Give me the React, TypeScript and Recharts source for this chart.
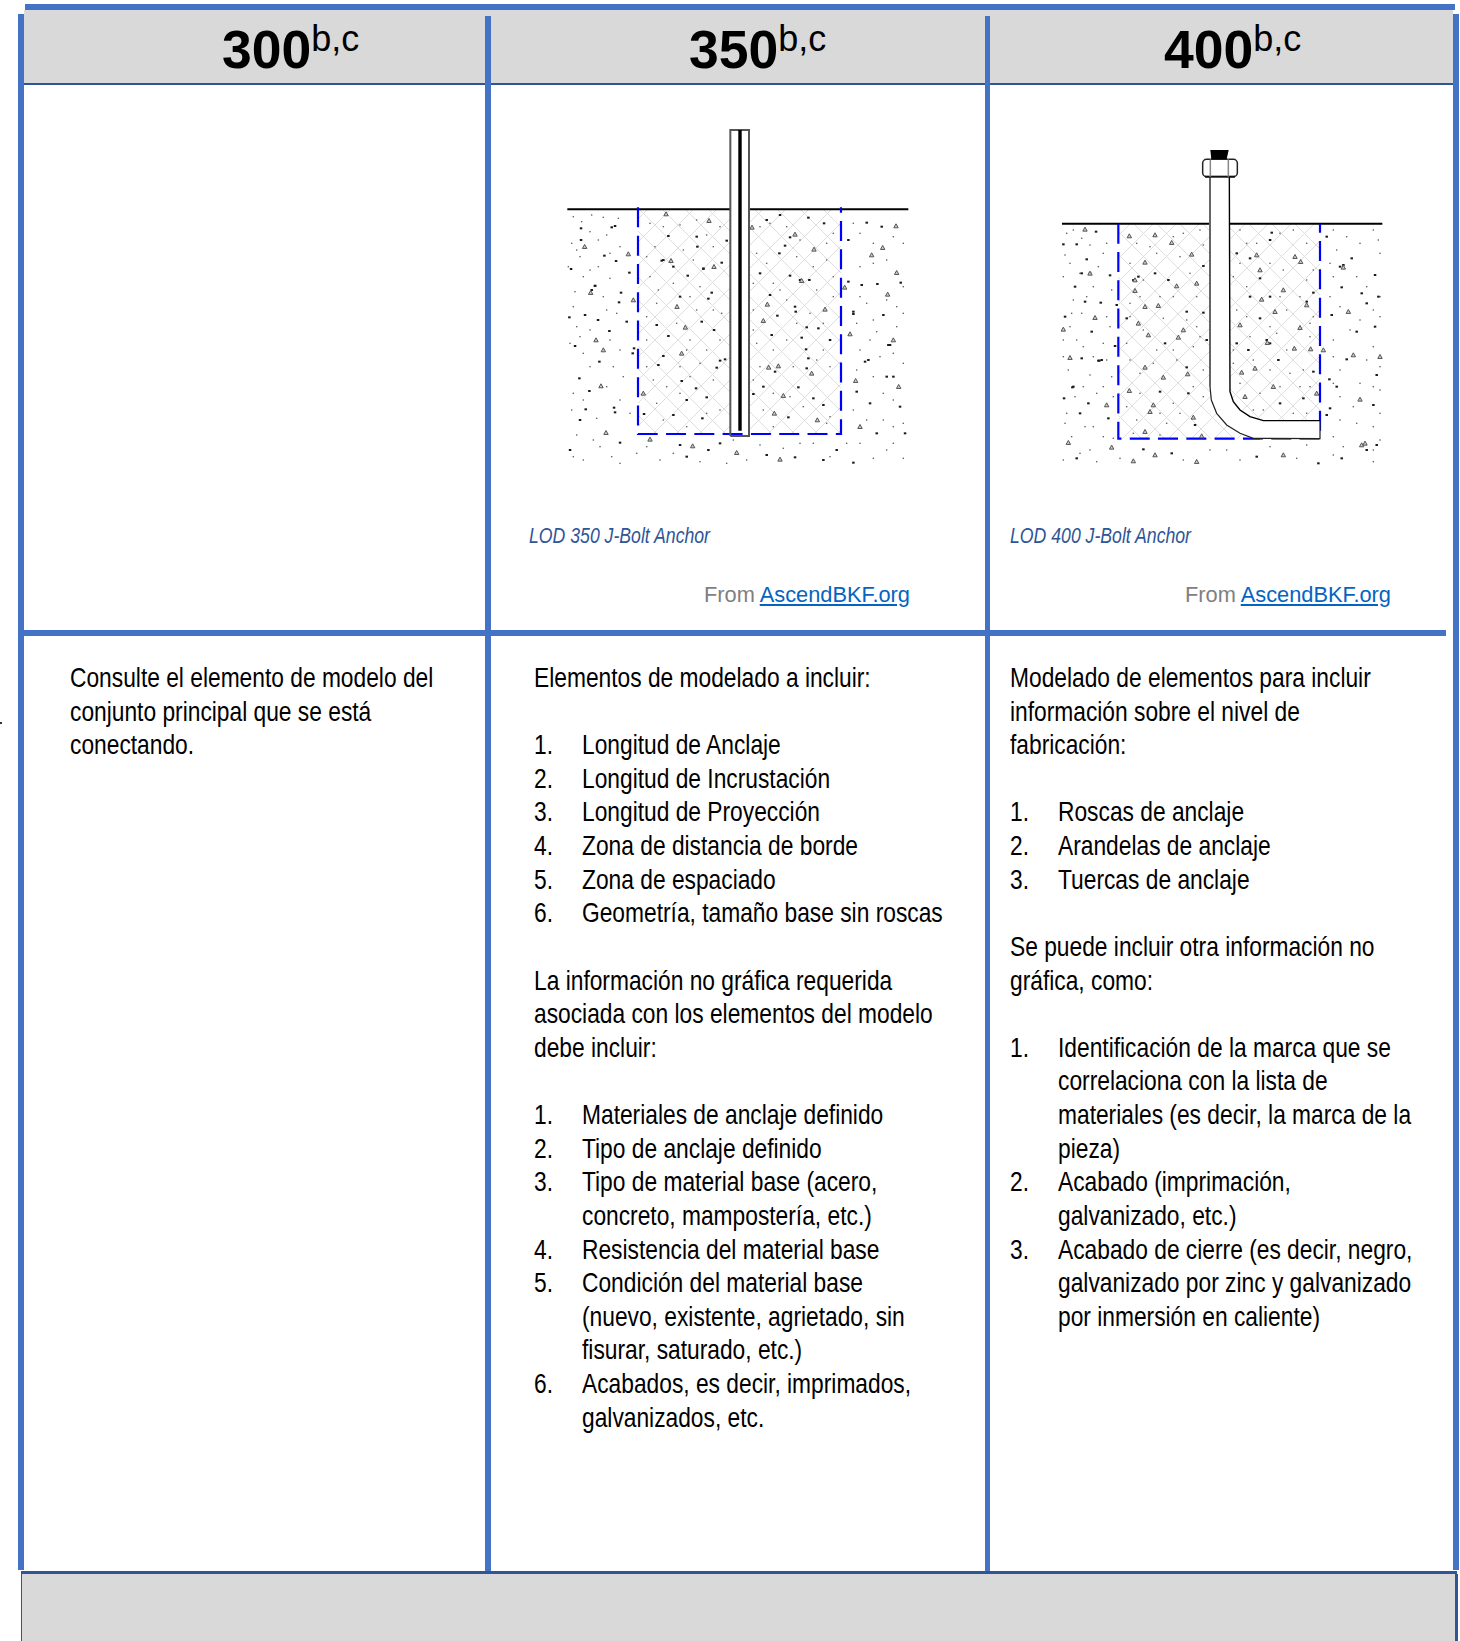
import { ComposedChart, Line, Scatter, ReferenceArea, XAxis, YAxis } from "recharts";

const SANS = '"Liberation Sans", Arial, sans-serif';
const BLUE = "#4472c4";
const NAVY = "#2f5597";

// table text
const col300 = ["Consulte el elemento de modelo del", "conjunto principal que se está", "conectando."];
const col350 = [
  "Elementos de modelado a incluir:", "",
  "1.|Longitud de Anclaje", "2.|Longitud de Incrustación", "3.|Longitud de Proyección",
  "4.|Zona de distancia de borde", "5.|Zona de espaciado", "6.|Geometría, tamaño base sin roscas", "",
  "La información no gráfica requerida", "asociada con los elementos del modelo", "debe incluir:", "",
  "1.|Materiales de anclaje definido", "2.|Tipo de anclaje definido",
  "3.|Tipo de material base (acero,", "|concreto, mampostería, etc.)",
  "4.|Resistencia del material base", "5.|Condición del material base",
  "|(nuevo, existente, agrietado, sin", "|fisurar, saturado, etc.)",
  "6.|Acabados, es decir, imprimados,", "|galvanizados, etc.",
];
const col400 = [
  "Modelado de elementos para incluir", "información sobre el nivel de", "fabricación:", "",
  "1.|Roscas de anclaje", "2.|Arandelas de anclaje", "3.|Tuercas de anclaje", "",
  "Se puede incluir otra información no", "gráfica, como:", "",
  "1.|Identificación de la marca que se", "|correlaciona con la lista de",
  "|materiales (es decir, la marca de la", "|pieza)",
  "2.|Acabado (imprimación,", "|galvanizado, etc.)",
  "3.|Acabado de cierre (es decir, negro,", "|galvanizado por zinc y galvanizado",
  "|por inmersión en caliente)",
];

// diagram readings, in 3x-crop pixels of each drawing
const surfaceLeft350 = [{ x: 82, y: 298 }, { x: 571, y: 298 }];
const surfaceRight350 = [{ x: 627, y: 298 }, { x: 1105, y: 298 }];
const box350 = [{ x: 294, y: 292 }, { x: 294, y: 972 }, { x: 903, y: 972 }, { x: 903, y: 292 }];
const boltOutline350 = [{ x: 571, y: 978 }, { x: 571, y: 60 }, { x: 627, y: 60 }, { x: 627, y: 978 }, { x: 571, y: 978 }];
const boltCore350 = [{ x: 600, y: 60 }, { x: 600, y: 962 }];
const rocks350 = [[507,332],[134,410],[265,432],[152,548],[280,570],[436,652],[168,690],[190,720],[425,730],[183,828],[310,850],[1043,553],[765,373],[822,418],[785,512],[682,583],[670,632],[855,598],[686,772],[715,768],[815,790],[730,857],[703,910],[832,930],[1060,690],[1076,830],[960,950],[330,988],[198,968],[458,1008],[720,1048],[590,1028],[636,352],[378,312],[393,452],[522,470],[411,590],[1068,348],[995,435],[1028,413],[1070,488],[930,672],[947,812],[914,532]];
const dark350 = [[123,355],[215,352],[225,348],[123,390],[193,437],[228,453],[93,477],[268,488],[165,527],[243,548],[237,577],[135,615],[174,630],[260,635],[208,663],[105,708],[178,755],[118,805],[148,843],[222,893],[225,907],[137,898],[120,930],[88,622],[385,378],[470,380],[472,410],[370,450],[400,470],[490,476],[545,458],[443,497],[420,560],[515,548],[505,566],[485,635],[522,660],[350,645],[385,678],[370,738],[355,765],[530,773],[425,813],[468,835],[500,862],[440,870],[400,915],[487,925],[312,912],[720,315],[680,330],[805,323],[852,340],[750,382],[735,407],[718,430],[560,392],[660,490],[750,497],[690,555],[765,590],[767,605],[712,617],[835,655],[800,652],[695,675],[785,683],[870,690],[798,718],[805,745],[800,775],[705,785],[640,852],[670,830],[775,832],[820,865],[850,885],[745,922],[925,390],[980,338],[1025,350],[925,515],[965,525],[1012,522],[940,612],[1030,615],[1082,518],[975,755],[990,880],[1080,890],[950,845],[1045,705],[420,1005],[505,1020],[440,1040],[540,1000],[680,1035],[765,1042],[850,1050],[890,1020],[90,1020],[240,998],[940,1058],[1010,970],[1095,970],[155,540],[165,528],[282,715],[278,730],[540,752],[555,748],[490,476],[365,452],[780,510],[808,510],[940,605],[1050,705],[985,750],[1040,800],[1060,800]];
const fine350 = [[100,320],[155,315],[190,322],[235,325],[95,400],[150,365],[175,390],[240,410],[105,545],[130,500],[210,505],[85,470],[120,440],[175,470],[110,650],[150,660],[90,700],[130,730],[240,720],[250,800],[100,850],[95,900],[170,925],[240,870],[110,975],[160,990],[215,1040],[130,1050],[290,1030],[360,1050],[330,340],[420,345],[470,330],[540,350],[345,410],[430,420],[520,410],[330,500],[400,520],[480,530],[350,580],[470,600],[545,610],[320,690],[410,640],[450,690],[540,690],[420,770],[480,760],[340,810],[520,810],[350,880],[420,850],[540,900],[440,950],[660,350],[740,350],[880,370],[650,430],[770,440],[860,450],[640,520],[700,520],[830,540],[880,560],[640,600],[740,570],[810,610],[650,700],[740,690],[850,720],[660,770],[760,770],[870,770],[700,850],[790,890],[870,920],[670,900],[940,340],[1000,400],[1090,400],[960,470],[1040,450],[1090,530],[980,580],[1070,590],[950,640],[1010,665],[1090,610],[960,720],[1020,740],[1090,760],[1000,800],[1060,870],[940,900],[1030,930],[1090,940],[960,1000],[1040,1020],[1090,1045],[620,1050],[560,1060],[780,1000],[125,335],[200,375],[110,420],[210,430],[150,480],[190,560],[100,590],[200,600],[230,610],[120,680],[210,690],[150,770],[220,770],[200,830],[130,870],[270,910],[180,1010],[100,1040],[240,1060],[320,1010],[400,1030],[480,1055],[580,990],[660,1005],[730,1015],[820,1000],[870,1040],[920,1000],[1000,1045],[1060,1000],[370,350],[500,375],[320,440],[460,450],[355,540],[450,560],[320,620],[520,600],[440,720],[500,720],[320,770],[450,800],[380,830],[500,910],[370,930],[690,340],[780,390],[860,400],[680,460],[820,470],[880,500],[720,540],[850,640],[640,660],[770,640],[700,720],[830,750],[640,810],[750,860],[700,950],[860,940],[960,370],[1060,380],[1000,460],[960,560],[1040,570],[1000,630],[1070,650],[990,690],[1060,730],[950,780],[1030,850],[980,930],[1060,950]];

const surface400 = [{ x: 66, y: 281 }, { x: 1027, y: 281 }];
const box400 = [{ x: 235, y: 281 }, { x: 235, y: 926 }, { x: 840, y: 926 }, { x: 840, y: 281 }];
const boltBody400 = [{ x: 539, y: 142 }, { x: 539, y: 775 }, { x: 546, y: 812 }, { x: 562, y: 845 }, { x: 590, y: 875 }, { x: 625, y: 892 }, { x: 665, y: 899 }, { x: 840, y: 899 }];
const boltOuterUpper400 = [{ x: 510, y: 142 }, { x: 510, y: 770 }];
const boltOuterLower400 = [{ x: 510, y: 770 }, { x: 514, y: 810 }, { x: 530, y: 850 }, { x: 560, y: 885 }, { x: 600, y: 910 }, { x: 640, y: 925 }, { x: 840, y: 926 }, { x: 840, y: 872 }];
const boltInner400 = [{ x: 840, y: 872 }, { x: 670, y: 872 }, { x: 630, y: 860 }, { x: 600, y: 840 }, { x: 580, y: 815 }, { x: 570, y: 785 }, { x: 568, y: 142 }];
const nutBase400 = [{ x: 495, y: 140 }, { x: 585, y: 140 }];
const nutLeft400 = [{ x: 511, y: 88 }, { x: 511, y: 140 }];
const nutRight400 = [{ x: 565, y: 88 }, { x: 565, y: 140 }];
const rocks400 = [[135,298],[268,318],[345,315],[395,338],[455,373],[315,397],[150,430],[285,450],[410,468],[285,482],[470,460],[355,527],[315,530],[165,563],[295,580],[70,598],[430,600],[325,615],[415,622],[90,683],[315,712],[443,732],[370,742],[268,782],[340,825],[330,845],[200,825],[460,862],[315,905],[485,918],[650,375],[765,380],[782,395],[660,420],[730,480],[665,508],[800,525],[705,545],[600,585],[780,593],[682,638],[763,655],[812,657],[850,660],[645,715],[605,727],[700,770],[830,790],[615,800],[910,412],[925,545],[940,675],[960,808],[1020,680],[965,945],[975,940],[345,975],[215,952],[85,938],[730,975],[470,995],[280,993]];
const dark400 = [[168,305],[110,343],[70,343],[140,388],[210,436],[105,470],[182,518],[135,515],[75,560],[155,605],[125,685],[178,692],[97,772],[72,805],[145,820],[205,865],[120,850],[230,525],[260,565],[225,648],[345,430],[385,450],[490,408],[440,545],[490,548],[500,630],[375,640],[440,712],[360,785],[445,790],[465,885],[590,370],[695,308],[690,330],[630,385],[660,445],[630,500],[690,500],[820,488],[660,565],[590,640],[625,660],[715,690],[820,725],[720,820],[790,805],[860,320],[935,385],[1005,435],[905,472],[875,555],[980,520],[1005,590],[950,605],[920,688],[868,748],[890,770],[1010,735],[870,835],[1000,825],[860,855],[110,985],[310,958],[395,970],[650,980],[905,985],[980,960],[835,1000],[1010,945],[150,430],[125,430],[185,690],[175,692],[100,770],[280,450],[295,440],[470,462],[680,630],[690,640],[800,515],[910,405],[900,410],[965,490],[1015,500]];
const fine400 = [[80,310],[100,300],[150,345],[190,370],[90,400],[120,430],[70,440],[160,470],[215,480],[95,550],[125,550],[200,560],[70,630],[110,630],[190,640],[85,720],[150,735],[215,740],[130,770],[170,790],[220,800],[80,850],[160,890],[95,920],[220,925],[290,340],[430,310],[480,300],[270,400],[350,370],[420,380],[490,345],[300,500],[400,500],[470,500],[270,560],[370,565],[470,590],[260,640],[350,660],[460,650],[300,730],[410,690],[490,720],[260,830],[400,820],[490,800],[290,870],[380,880],[360,915],[600,300],[620,340],[760,300],[800,340],[580,440],[730,420],[820,420],[590,540],[740,540],[810,580],[630,620],[710,610],[810,620],[580,700],[690,720],[790,720],[660,790],[780,770],[670,840],[760,850],[880,300],[1000,300],[890,360],[960,340],[1020,370],[880,440],[980,470],[1020,500],[900,530],[960,570],[1020,560],[880,630],[1000,650],[1020,710],[900,720],[960,760],[900,800],[1020,780],[900,870],[1000,890],[880,920],[1020,930],[150,960],[70,990],[240,985],[430,990],[560,960],[600,990],[770,985],[880,975],[1000,995],[125,325],[200,340],[75,375],[175,410],[140,500],[100,510],[210,590],[90,590],[130,650],[200,690],[70,680],[160,680],[105,800],[190,770],[75,880],[135,890],[190,920],[120,970],[170,995],[330,350],[400,320],[310,450],[450,430],[270,520],[360,500],[440,570],[310,600],[400,660],[480,620],[340,700],[270,690],[460,770],[300,790],[420,850],[360,850],[280,910],[650,340],[720,310],[600,400],[690,400],[800,450],[620,470],[720,500],[780,500],[620,560],[690,590],[820,560],[580,660],[740,660],[640,690],[750,730],[600,760],[720,770],[810,770],[640,840],[800,850],[920,320],[1015,330],[870,400],[950,440],[870,500],[1000,540],[930,600],[880,680],[980,690],[880,760],[1000,770],[940,830],[1020,850],[950,880],[910,950],[1000,960],[510,960],[690,950],[800,945]];

const toPoints = (list: number[][]) => list.map(([x, y]) => ({ x, y }));

const Triangle = (p: any) => (
  <path d={`M${p.cx} ${p.cy - 2.2}L${p.cx + 2.2} ${p.cy + 1.8}L${p.cx - 2.2} ${p.cy + 1.8}Z`} fill="#ccc" stroke="#555" strokeWidth={1} />
);
const Dark = (p: any) => <rect x={p.cx - 1.2} y={p.cy - 1} width={2.5} height={2} fill="#1a1a1a" />;
const Fine = (p: any) => <rect x={p.cx - 0.7} y={p.cy - 0.7} width={1.4} height={1.4} fill="#666" />;

const NutCap = (p: any) => (
  <path d={`M${p.x - 1} ${p.y}L${p.x + p.width + 2} ${p.y}L${p.x + p.width} ${p.y + p.height}L${p.x} ${p.y + p.height}Z`} fill="#000" />
);

const Hatch = ({ id }: { id: string }) => (
  <defs>
    <pattern id={id} width={23} height={23} patternUnits="userSpaceOnUse">
      <path d="M0 0L23 23M23 0L0 23" stroke="#dedede" strokeWidth={1} />
    </pattern>
  </defs>
);

function Anchor350() {
  return (
    <ComposedChart width={400} height={370} margin={{ top: 0, right: 0, bottom: 0, left: 0 }}>
      <Hatch id="hatch350" />
      <XAxis type="number" dataKey="x" domain={[0, 1200]} hide />
      <YAxis type="number" dataKey="y" domain={[0, 1110]} reversed hide />
      <ReferenceArea x1={294} x2={571} y1={298} y2={972} fill="url(#hatch350)" fillOpacity={1} stroke="none" />
      <ReferenceArea x1={627} x2={903} y1={298} y2={972} fill="url(#hatch350)" fillOpacity={1} stroke="none" />
      <Scatter data={toPoints(fine350)} shape={Fine} isAnimationActive={false} />
      <Scatter data={toPoints(dark350)} shape={Dark} isAnimationActive={false} />
      <Scatter data={toPoints(rocks350)} shape={Triangle} isAnimationActive={false} />
      <Line data={surfaceLeft350} dataKey="y" stroke="#000" strokeWidth={2} dot={false} isAnimationActive={false} />
      <Line data={surfaceRight350} dataKey="y" stroke="#000" strokeWidth={2} dot={false} isAnimationActive={false} />
      <Line data={box350} dataKey="y" stroke="#0000ff" strokeWidth={2.2} strokeDasharray="20 8.3" dot={false} isAnimationActive={false} />
      <Line data={boltOutline350} dataKey="y" stroke="#555" strokeWidth={2} dot={false} isAnimationActive={false} />
      <Line data={boltCore350} dataKey="y" stroke="#000" strokeWidth={3.4} dot={false} isAnimationActive={false} />
    </ComposedChart>
  );
}

function Anchor400() {
  return (
    <ComposedChart width={360} height={350} margin={{ top: 0, right: 0, bottom: 0, left: 0 }}>
      <Hatch id="hatch400" />
      <XAxis type="number" dataKey="x" domain={[0, 1080]} hide />
      <YAxis type="number" dataKey="y" domain={[0, 1050]} reversed hide />
      <ReferenceArea x1={235} x2={840} y1={281} y2={926} fill="url(#hatch400)" fillOpacity={1} stroke="none" />
      <Scatter data={toPoints(fine400)} shape={Fine} isAnimationActive={false} />
      <Scatter data={toPoints(dark400)} shape={Dark} isAnimationActive={false} />
      <Scatter data={toPoints(rocks400)} shape={Triangle} isAnimationActive={false} />
      <Line data={surface400} dataKey="y" stroke="#000" strokeWidth={2} dot={false} isAnimationActive={false} />
      <Line data={box400} dataKey="y" stroke="#0000ff" strokeWidth={2.2} strokeDasharray="20 8.3" dot={false} isAnimationActive={false} />
      <Line data={boltBody400} dataKey="y" stroke="#fff" strokeWidth={19} dot={false} isAnimationActive={false} />
      <Line data={boltOuterUpper400} dataKey="y" stroke="#666" strokeWidth={2} dot={false} isAnimationActive={false} />
      <Line data={boltOuterLower400} dataKey="y" stroke="#222" strokeWidth={1.2} dot={false} isAnimationActive={false} />
      <Line data={boltInner400} dataKey="y" stroke="#000" strokeWidth={1.4} dot={false} isAnimationActive={false} />
      <ReferenceArea x1={488} x2={592} y1={88} y2={140} fill="#fff" fillOpacity={1} stroke="#222" strokeWidth={1.5} radius={4} />
      <ReferenceArea x1={514} x2={560} y1={60} y2={88} shape={NutCap} />
      <Line data={nutBase400} dataKey="y" stroke="#111" strokeWidth={2} dot={false} isAnimationActive={false} />
      <Line data={nutLeft400} dataKey="y" stroke="#888" strokeWidth={1.5} dot={false} isAnimationActive={false} />
      <Line data={nutRight400} dataKey="y" stroke="#888" strokeWidth={1.5} dot={false} isAnimationActive={false} />
    </ComposedChart>
  );
}

const at = (left: number, top: number, width: number, height: number, background: string) => ({
  position: "absolute" as const, left, top, width, height, background,
});

const narrow = (ratio: number) => ({ display: "inline-block", transform: `scaleX(${ratio})`, transformOrigin: "left center" });

function Heading({ left, value }: { left: number; value: string }) {
  return (
    <div style={{ position: "absolute", left, top: 17, fontFamily: SANS, color: "#000", whiteSpace: "nowrap", lineHeight: "66px" }}>
      <span style={{ fontSize: 53.5, fontWeight: 700 }}>{value}</span>
      <span style={{ fontSize: 36, position: "relative", top: -17 }}>b,c</span>
    </div>
  );
}

function Cell({ lines, left, indent }: { lines: string[]; left: number; indent: number }) {
  return (
    <>
      {lines.map((line, i) => {
        const [a, b] = line.includes("|") ? line.split("|") : [line, null];
        const base = {
          ...narrow(0.828),
          position: "absolute" as const, top: 661 + i * 33.62, whiteSpace: "nowrap" as const,
          fontFamily: SANS, fontSize: 27.5, lineHeight: "33.6px", color: "#000",
        };
        return (
          <div key={i}>
            <span style={{ ...base, left }}>{a}</span>
            {b !== null && <span style={{ ...base, left: left + indent }}>{b}</span>}
          </div>
        );
      })}
    </>
  );
}

function Caption({ left, fromLeft, text }: { left: number; fromLeft: number; text: string }) {
  return (
    <>
      <div style={{ ...narrow(0.803), position: "absolute", left, top: 523, fontFamily: SANS, fontStyle: "italic", fontSize: 22, color: NAVY, whiteSpace: "nowrap" }}>{text}</div>
      <div style={{ position: "absolute", left: fromLeft, top: 582, fontFamily: SANS, fontSize: 21.8, color: "#7f7f7f", whiteSpace: "nowrap" }}>
        From <span style={{ color: "#0563c1", textDecoration: "underline" }}>AscendBKF.org</span>
      </div>
    </>
  );
}

export default function App() {
  return (
    <div style={{ position: "absolute", left: 0, top: 0, width: 1460, height: 1641, background: "#fff", overflow: "hidden" }}>
      <div style={at(24, 10, 1429, 73, "#d9d9d9")} />
      <div style={at(22, 1574, 1433, 67, "#d9d9d9")} />
      <div style={at(25, 4, 1430, 6, BLUE)} />
      <div style={at(24, 83, 1429, 2, NAVY)} />
      <div style={at(24, 630, 1422, 6, BLUE)} />
      <div style={at(18, 14, 6, 1556, BLUE)} />
      <div style={at(485, 16, 6, 1556, BLUE)} />
      <div style={at(985, 16, 5, 1556, BLUE)} />
      <div style={at(1453, 14, 6, 1556, BLUE)} />
      <div style={at(21, 1571, 1436, 3, NAVY)} />
      <div style={at(21, 1574, 1, 67, NAVY)} />
      <div style={at(1455, 1574, 2.5, 67, NAVY)} />
      <div style={at(0, 722, 2, 2, "#333")} />
      <Heading left={222} value="300" />
      <Heading left={689} value="350" />
      <Heading left={1164} value="400" />
      <div style={{ position: "absolute", left: 540, top: 110 }}><Anchor350 /></div>
      <div style={{ position: "absolute", left: 1040, top: 130 }}><Anchor400 /></div>
      <Caption left={529} fromLeft={704} text="LOD 350 J-Bolt Anchor" />
      <Caption left={1010} fromLeft={1185} text="LOD 400 J-Bolt Anchor" />
      <Cell lines={col300} left={69.5} indent={48} />
      <Cell lines={col350} left={533.5} indent={48} />
      <Cell lines={col400} left={1009.5} indent={48} />
    </div>
  );
}
